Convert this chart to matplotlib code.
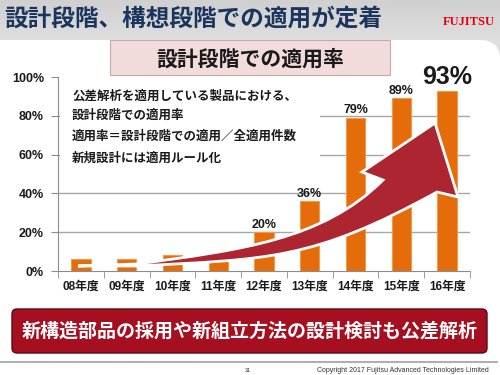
import matplotlib
matplotlib.use("Agg")
import matplotlib.pyplot as plt
import numpy as np
from matplotlib.patches import Rectangle, FancyBboxPatch, PathPatch
from matplotlib.path import Path
from matplotlib.colors import LinearSegmentedColormap

plt.rcParams['font.family'] = ['Liberation Sans', 'Noto Sans CJK JP']

# data
years = ['08年度', '09年度', '10年度', '11年度', '12年度', '13年度', '14年度', '15年度', '16年度']
rates = [6, 6, 8, 5, 20, 36, 79, 89, 93]
labelled = [False, False, False, False, True, True, True, True, True]
yticks = [0, 20, 40, 60, 80, 100]

title = '設計段階、構想段階での適用が定着'
box_title = '設計段階での適用率'
notes = ['公差解析を適用している製品における、',
         '設計段階での適用率',
         '適用率＝設計段階での適用／全適用件数',
         '新規設計には適用ルール化']
bottom_msg = '新構造部品の採用や新組立方法の設計検討も公差解析'
footer = 'Copyright 2017 Fujitsu Advanced Technologies Limited'

jp = 'Noto Sans CJK JP'

fig = plt.figure(figsize=(5, 3.75), dpi=100)

# background (slide) in pixel coords
bg = fig.add_axes([0, 0, 1, 1], zorder=0)
bg.set_xlim(0, 500); bg.set_ylim(375, 0); bg.axis('off')
cm = LinearSegmentedColormap.from_list('band', ['#d0d0d0', '#e6e6e6'])
bg.imshow(np.linspace(0, 1, 50).reshape(-1, 1), extent=[0, 500, 60, 0],
          cmap=cm, aspect='auto')
bg.add_patch(FancyBboxPatch((-40, 40), 540, 400,
                            boxstyle='round,pad=0,rounding_size=20',
                            fc='white', ec='none'))

# overlay for annotations
top = fig.add_axes([0, 0, 1, 1], zorder=10)
top.set_xlim(0, 500); top.set_ylim(375, 0); top.axis('off')
top.patch.set_alpha(0)

# chart
ax = fig.add_axes([58/500, 104/375, 412/500, 194/375], zorder=1)
ax.set_facecolor('none')
x = np.arange(len(years))
ax.bar(x, rates, width=0.42, color='#E46C0A', edgecolor='#F29A4A',
       linewidth=0.8, zorder=3)
ax.set_xlim(-0.5, len(years) - 0.5)
ax.set_ylim(0, 100)
for v in yticks[1:-1]:
    ax.axhline(v, color='#A6A6A6', lw=1, zorder=0.5)

# white panel behind the notes (hides gridlines)
ax.add_patch(Rectangle((60, 85), 260, 87, transform=top.transData,
                       fc='white', ec='none', zorder=1))

ax.set_yticks(yticks, [f'{v}%' for v in yticks])
ax.set_xticks(x, years)
ax.set_xticks(np.arange(-0.5, len(years)), minor=True)
ax.tick_params(axis='y', length=5, color='#8c8c8c', pad=5, labelsize=9)
ax.tick_params(axis='x', which='major', length=0, pad=7, labelsize=8.5)
ax.tick_params(axis='x', which='minor', length=5, color='#8c8c8c')
for lab in ax.get_xticklabels() + ax.get_yticklabels():
    lab.set_fontweight('bold')
    lab.set_color('#1a1a1a')
for s in ['top', 'right']:
    ax.spines[s].set_visible(False)
for s in ['left', 'bottom']:
    ax.spines[s].set_color('#8c8c8c')

for i, v in enumerate(rates):
    if labelled[i]:
        big = i == len(rates) - 1
        ax.annotate(f'{v}%', (i, v), xytext=(0, 1), textcoords='offset points',
                    ha='center', va='bottom', fontsize=18 if big else 9,
                    fontweight='bold', color='#1a1a1a', zorder=4)

# big curved arrow (decoration, pixel coords)
P = Path
verts = [(78, 266), (137, 264),
         (240, 250), (323, 240), (383, 180),
         (362, 172), (435, 123), (458, 197), (437, 192),
         (312, 261), (267, 259), (137, 266),
         (78, 266)]
codes = [P.MOVETO, P.LINETO,
         P.CURVE4, P.CURVE4, P.CURVE4,
         P.LINETO, P.LINETO, P.LINETO, P.LINETO,
         P.CURVE4, P.CURVE4, P.CURVE4,
         P.CLOSEPOLY]
top.add_patch(PathPatch(Path(verts, codes), fc='#AC2530', ec='white',
                        lw=2, joinstyle='miter'))

# title and logo
top.text(4, 20, title, fontsize=17, fontweight='bold', color='#1B355E',
         va='center', family=jp)
top.text(469, 22, 'FUJITSU', fontsize=9, fontweight='bold', color='#E60012',
         family='Liberation Serif', ha='center', va='center')

# pink header box
top.add_patch(Rectangle((110, 40), 280, 35, fc='#F2DCDB', ec='#C9A9A8', lw=0.8))
top.text(250, 59, box_title, fontsize=15, fontweight='bold', color='#1a1a1a',
         ha='center', va='center', family=jp)

# notes
for yy, t in zip([96, 115, 136, 158], notes):
    top.text(72, yy, t, fontsize=9, fontweight='bold', color='#1a1a1a',
             va='center', family=jp)

# bottom message
top.add_patch(FancyBboxPatch((12, 309), 475, 44,
                             boxstyle='round,pad=0,rounding_size=5',
                             fc='#A50F1F', ec='#5a0a10', lw=1))
top.text(250, 331, bottom_msg, fontsize=13.7, fontweight='bold', color='white',
         ha='center', va='center', family=jp)

# footer
top.plot([0, 497], [362, 362], color='#A0A0A0', lw=1.2)
top.text(248, 370, '31', fontsize=4, color='#333333', ha='center', va='center')
top.text(489, 370, footer, fontsize=5, color='#333333', ha='right', va='center')

fig.savefig('out.png', dpi=100)
